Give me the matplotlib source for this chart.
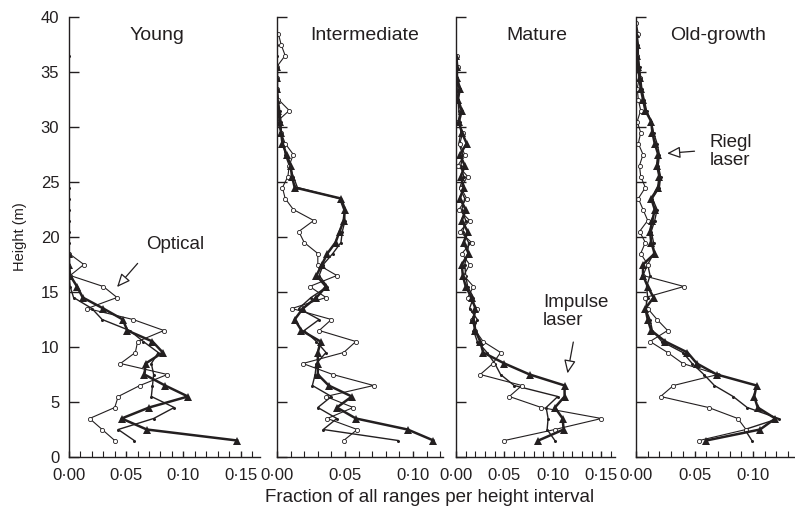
import matplotlib
matplotlib.use('Agg')
import matplotlib.pyplot as plt
from matplotlib.ticker import MultipleLocator, FuncFormatter
import numpy as np

plt.rcParams['font.family'] = ['Liberation Sans', 'DejaVu Sans']

#Height bin midpoints (m)
heights = [1.5, 2.5, 3.5, 4.5, 5.5, 6.5, 7.5, 8.5, 9.5, 10.5,
           11.5, 12.5, 13.5, 14.5, 15.5, 16.5, 17.5, 18.5, 19.5, 20.5,
           21.5, 22.5, 23.5, 24.5, 25.5, 26.5, 27.5, 28.5, 29.5, 30.5,
           31.5, 32.5, 33.5, 34.5, 35.5, 36.5, 37.5, 38.5, 39.5]

stand_names = ['Young', 'Intermediate', 'Mature', 'Old-growth']

#Young
young_optical = [0.040, 0.029, 0.018, 0.040, 0.043, 0.062, 0.086, 0.045, 0.058, 0.060,
                 0.083, 0.056, 0.016, 0.042, 0.030, 0.001, 0.013, 0.000]
young_impulse = [0.147, 0.068, 0.046, 0.070, 0.104, 0.084, 0.066, 0.067, 0.082, 0.073,
                 0.051, 0.047, 0.030, 0.012, 0.007, 0.001, 0.000, 0.000]
young_riegl = [0.057, 0.043, 0.074, 0.092, 0.072, 0.073, 0.074, 0.072, 0.078, 0.065,
               0.053, 0.029, 0.020, 0.004, 0.001, 0.000, 0.000, 0.000, 0.000, 0.000,
               0.000, 0.000, 0.000, 0.000, np.nan, np.nan, np.nan, np.nan, np.nan, np.nan,
               np.nan, np.nan, np.nan, np.nan, np.nan, 0.000]

#Intermediate
int_optical = [0.049, 0.059, 0.037, 0.056, 0.036, 0.071, 0.041, 0.019, 0.049, 0.058,
               0.031, 0.040, 0.011, 0.036, 0.024, 0.044, 0.030, 0.030, 0.020, 0.016,
               0.027, 0.012, 0.006, 0.004, 0.008, 0.009, 0.012, 0.006, 0.003, 0.000,
               0.009, 0.001, 0.000, 0.000, 0.000, 0.006, 0.003, 0.001]
int_impulse = [0.115, 0.096, 0.058, 0.044, 0.055, 0.038, 0.030, 0.030, 0.030, 0.032,
               0.018, 0.013, 0.019, 0.029, 0.036, 0.029, 0.033, 0.037, 0.043, 0.046,
               0.049, 0.050, 0.047, 0.013, 0.011, 0.010, 0.007, 0.004, 0.003, 0.002,
               0.001, 0.000, 0.000, 0.000, 0.000]
int_riegl = [0.089, 0.034, 0.044, 0.030, 0.040, 0.026, 0.028, 0.029, 0.036, 0.029,
             0.020, 0.031, 0.016, 0.025, 0.037, 0.031, 0.034, 0.041, 0.047, 0.048,
             0.050, 0.049, 0.046, 0.015, 0.012, 0.009, 0.006, 0.005, 0.003, 0.003,
             0.002, 0.001, 0.000, 0.000, 0.000, 0.000, 0.000]

#Mature
mat_optical = [0.050, 0.102, 0.150, 0.088, 0.055, 0.068, 0.025, 0.038, 0.046, 0.028,
               0.020, 0.016, 0.022, 0.012, 0.018, 0.008, 0.014, 0.006, 0.016, 0.004,
               0.014, 0.003, 0.011, 0.005, 0.012, 0.002, 0.009, 0.004, 0.007, 0.002,
               0.005, 0.001, 0.003, 0.000, 0.002, 0.001]
mat_impulse = [0.085, 0.111, 0.110, 0.102, 0.112, 0.112, 0.076, 0.050, 0.028, 0.025,
               0.020, 0.018, 0.020, 0.016, 0.010, 0.007, 0.006, 0.013, 0.008, 0.012,
               0.006, 0.010, 0.004, 0.008, 0.005, 0.009, 0.004, 0.011, 0.006, 0.003,
               0.006, 0.002, 0.004, 0.001, 0.001, 0.000]
mat_riegl = [0.102, 0.094, 0.095, 0.093, 0.105, 0.060, 0.046, 0.040, 0.032, 0.022,
             0.018, 0.022, 0.014, 0.018, 0.012, 0.010, 0.009, 0.012, 0.013, 0.007,
             0.010, 0.006, 0.009, 0.004, 0.008, 0.005, 0.007, 0.003, 0.005, 0.004,
             0.003, 0.002, 0.002, 0.001, 0.000, 0.000]

#Old-growth
og_optical = [0.054, 0.094, 0.087, 0.062, 0.021, 0.032, 0.070, 0.040, 0.027, 0.012,
              0.027, 0.018, 0.010, 0.008, 0.041, 0.006, 0.010, 0.004, 0.008, 0.003,
              0.010, 0.006, 0.002, 0.008, 0.004, 0.003, 0.006, 0.002, 0.004, 0.001,
              0.004, 0.002, 0.001, 0.003, 0.000, 0.001, 0.000, 0.002, 0.000]
og_impulse = [0.060, 0.106, 0.119, 0.104, 0.101, 0.103, 0.069, 0.052, 0.044, 0.025,
              0.013, 0.010, 0.008, 0.015, 0.010, 0.006, 0.006, 0.016, 0.013, 0.012,
              0.014, 0.016, 0.013, 0.019, 0.020, 0.018, 0.019, 0.016, 0.014, 0.013,
              0.008, 0.006, 0.004, 0.003, 0.002, 0.001, 0.001, 0.000]
og_riegl = [0.099, 0.093, 0.122, 0.095, 0.083, 0.067, 0.058, 0.048, 0.040, 0.022,
            0.014, 0.012, 0.008, 0.010, 0.009, 0.012, 0.010, 0.015, 0.015, 0.013,
            0.016, 0.018, 0.014, 0.020, 0.021, 0.019, 0.020, 0.018, 0.015, 0.013,
            0.009, 0.007, 0.005, 0.004, 0.003, 0.002, 0.002, 0.001, 0.000]

optical = [young_optical, int_optical, mat_optical, og_optical]
impulse = [young_impulse, int_impulse, mat_impulse, og_impulse]
riegl = [young_riegl, int_riegl, mat_riegl, og_riegl]

#x-axis upper limits of each panel
x_max = [0.167, 0.122, 0.164, 0.135]

ink = '#231f20'

fig = plt.figure(figsize=(7.95, 5.11), dpi=100)

W = 795.0
H = 511.0

#panel left/right edges in pixels
panel_px = [(69, 260), (277, 443), (456, 615), (636, 794)]

title_px = [157, 365, 537, 718]

dot_fmt = FuncFormatter(lambda v, pos: ('%.2f' % v).replace('.', '\u00b7'))

axes = []

for i in range(4):

    left, right = panel_px[i]

    ax = fig.add_axes([left / W, 54 / H, (right - left) / W, 440 / H])

    axes.append(ax)

    n = len(riegl[i])
    ax.plot(riegl[i], heights[:n], color=ink, lw=1.0,
            marker='o', markersize=2.2, markerfacecolor=ink,
            markeredgewidth=0, zorder=3)

    n = len(optical[i])
    ax.plot(optical[i], heights[:n], color=ink, lw=0.8,
            marker='o', markersize=3.0, markerfacecolor='white',
            markeredgecolor=ink, markeredgewidth=0.6, zorder=4)

    n = len(impulse[i])
    ax.plot(impulse[i], heights[:n], color=ink, lw=1.8,
            marker='^', markersize=5.5, markerfacecolor=ink,
            markeredgewidth=0, zorder=5)

    ax.set_xlim(0, x_max[i])
    ax.set_ylim(0, 40)

    ax.spines['top'].set_visible(False)
    ax.spines['right'].set_visible(False)
    ax.spines['left'].set_color(ink)
    ax.spines['bottom'].set_color(ink)
    ax.spines['left'].set_linewidth(1.0)
    ax.spines['bottom'].set_linewidth(1.0)
    ax.spines['left'].set_zorder(6)

    ax.xaxis.set_major_locator(MultipleLocator(0.05))
    ax.xaxis.set_minor_locator(MultipleLocator(0.01))
    ax.xaxis.set_major_formatter(dot_fmt)
    ax.yaxis.set_major_locator(MultipleLocator(5))

    ax.tick_params(axis='x', which='major', direction='in', length=4,
                   width=1.0, color=ink, labelsize=12, labelcolor=ink, pad=8)
    ax.tick_params(axis='x', which='minor', direction='in', length=4,
                   width=0.8, color=ink)
    ax.tick_params(axis='y', which='major', direction='in', length=7,
                   width=1.0, color=ink, labelsize=12, labelcolor=ink, pad=7)

    if i > 0:
        ax.tick_params(axis='y', labelleft=False)

    fig.text(title_px[i] / W, 1 - 36 / H, stand_names[i], ha='center',
             va='center', fontsize=14, color=ink)

fig.text(20 / W, 1 - 237 / H, 'Height (m)', rotation=90, ha='center',
         va='center', fontsize=10.5, color=ink)

fig.text(430 / W, 1 - 498 / H, 'Fraction of all ranges per height interval',
         ha='center', va='center', fontsize=13.5, color=ink)

arrow = dict(arrowstyle='-|>,head_length=0.8,head_width=0.35',
             edgecolor=ink, facecolor='white', lw=0.9,
             shrinkA=0, shrinkB=0)

axes[0].annotate('', xy=(0.042, 15.45), xytext=(0.060, 17.6), arrowprops=arrow)
axes[0].text(0.093, 19.3, 'Optical', ha='center', va='center',
             fontsize=13.5, color=ink)

axes[2].annotate('', xy=(0.115, 7.6), xytext=(0.121, 10.45), arrowprops=arrow)
axes[2].text(0.0897, 13.2, 'Impulse\nlaser', ha='left', va='center',
             fontsize=13.5, color=ink, linespacing=1.1)

axes[3].annotate('', xy=(0.0265, 27.6), xytext=(0.050, 27.8), arrowprops=arrow)
axes[3].text(0.063, 27.8, 'Riegl\nlaser', ha='left', va='center',
             fontsize=13.5, color=ink, linespacing=1.1)

fig.savefig('out.png', dpi=100)
